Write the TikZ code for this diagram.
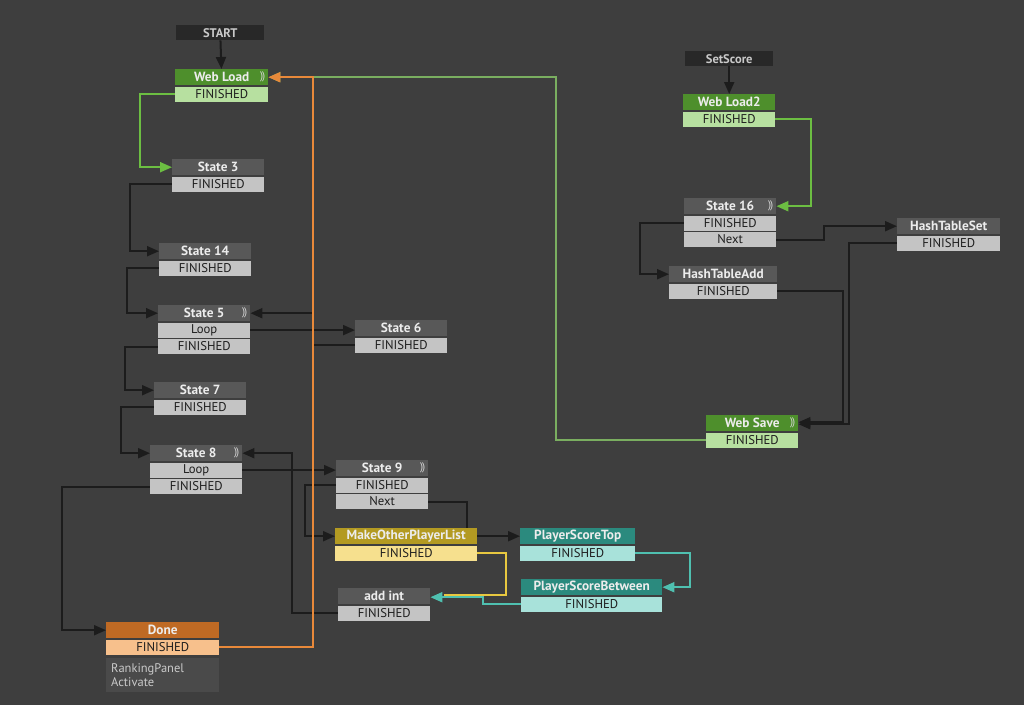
\documentclass[tikz,border=0pt]{standalone}
\usepackage{fontspec}
\setmainfont{PT Sans}
\usetikzlibrary{positioning,arrows.meta}
\pgfdeclarelayer{background}
\pgfsetlayers{background,main}

\definecolor{canvas}{RGB}{62,62,62}
\definecolor{entrybg}{RGB}{40,40,40}
\definecolor{ttlbg}{RGB}{88,88,88}
\definecolor{evbg}{RGB}{196,196,196}
\definecolor{ttltxt}{RGB}{236,236,236}
\definecolor{evtxt}{RGB}{30,30,30}
\definecolor{greenttl}{RGB}{78,143,44}
\definecolor{greenev}{RGB}{183,224,160}
\definecolor{orangettl}{RGB}{191,106,36}
\definecolor{orangeev}{RGB}{247,192,140}
\definecolor{yellowttl}{RGB}{179,154,34}
\definecolor{yellowev}{RGB}{246,224,142}
\definecolor{tealttl}{RGB}{43,138,126}
\definecolor{tealev}{RGB}{168,226,218}
\definecolor{descbg}{RGB}{74,74,74}
\definecolor{wireblack}{RGB}{28,28,28}
\definecolor{wiregreen}{RGB}{108,190,66}
\definecolor{wiregreenb}{RGB}{122,174,96}
\definecolor{wireorange}{RGB}{232,137,58}
\definecolor{wireyellow}{RGB}{232,200,64}
\definecolor{wireteal}{RGB}{79,192,176}

\tikzset{
  box/.style={anchor=north west, inner sep=0pt, minimum height=15pt,
    minimum width=#1, font=\fontsize{12.7}{13}\selectfont},
  entry/.style={box=#1, fill=entrybg, text=ttltxt!85!black,
    font=\fontsize{12.5}{13}\selectfont\bfseries},
  ttl/.style={box=#1, minimum height=16pt, fill=ttlbg, text=ttltxt,
    font=\fontsize{13.3}{14}\selectfont\bfseries},
  gttl/.style={ttl=#1, fill=greenttl},
  ottl/.style={ttl=#1, fill=orangettl},
  yttl/.style={ttl=#1, fill=yellowttl},
  tttl/.style={ttl=#1, fill=tealttl},
  ev/.style={box=#1, fill=evbg, text=evtxt},
  gev/.style={ev=#1, fill=greenev},
  oev/.style={ev=#1, fill=orangeev},
  yev/.style={ev=#1, fill=yellowev},
  tev/.style={ev=#1, fill=tealev},
  icon/.style={inner sep=0pt, text=ttltxt!80!gray,
    font=\fontsize{11}{11}\selectfont},
  wire/.style={draw=wireblack, line width=2pt,
    -{Triangle[length=12pt,width=10pt]}},
  gwire/.style={wire, draw=wiregreen},
  gwireb/.style={wire, draw=wiregreenb},
  owire/.style={wire, draw=wireorange},
  ywire/.style={wire, draw=wireyellow, -},
  twire/.style={wire, draw=wireteal},
}

\begin{document}
\begin{tikzpicture}[x=1pt,y=-1pt]
  % left machine
  \node[entry=88] (start) at (176,25) {START};
  \node[gttl=93] (wl) at (175,69) {Web Load};
  \node[gev=93, below=1pt of wl] (wl-f) {FINISHED};
  \node[icon, left=3pt of wl.east] (wl-i) {)\kern-1pt)};

  \node[ttl=92] (s3) at (172,159) {State 3};
  \node[ev=92, below=1pt of s3] (s3-f) {FINISHED};

  \node[ttl=92] (s14) at (159,243) {State 14};
  \node[ev=92, below=1pt of s14] (s14-f) {FINISHED};

  \node[ttl=92] (s5) at (158,305) {State 5};
  \node[ev=92, below=1pt of s5] (s5-l) {Loop};
  \node[ev=92, below=1pt of s5-l] (s5-f) {FINISHED};
  \node[icon, left=3pt of s5.east] (s5-i) {)\kern-1pt)};

  \node[ttl=92] (s6) at (355,320) {State 6};
  \node[ev=92, below=1pt of s6] (s6-f) {FINISHED};

  \node[ttl=92] (s7) at (154,382) {State 7};
  \node[ev=92, below=1pt of s7] (s7-f) {FINISHED};

  \node[ttl=92] (s8) at (150,445) {State 8};
  \node[ev=92, below=1pt of s8] (s8-l) {Loop};
  \node[ev=92, below=1pt of s8-l] (s8-f) {FINISHED};
  \node[icon, left=3pt of s8.east] (s8-i) {)\kern-1pt)};

  \node[ttl=92] (s9) at (336,460) {State 9};
  \node[ev=92, below=1pt of s9] (s9-f) {FINISHED};
  \node[ev=92, below=1pt of s9-f] (s9-n) {Next};
  \node[icon, left=3pt of s9.east] (s9-i) {)\kern-1pt)};

  \node[yttl=142] (mopl) at (335,528) {MakeOtherPlayerList};
  \node[yev=142, below=1pt of mopl] (mopl-f) {FINISHED};

  \node[tttl=115] (pst) at (520,528) {PlayerScoreTop};
  \node[tev=115, below=1pt of pst] (pst-f) {FINISHED};

  \node[tttl=141] (psb) at (521,579) {PlayerScoreBetween};
  \node[tev=141, below=1pt of psb] (psb-f) {FINISHED};

  \node[ttl=92] (addint) at (338,588) {add int};
  \node[ev=92, below=1pt of addint] (addint-f) {FINISHED};

  \node[ottl=113] (done) at (106,622) {Done};
  \node[oev=113, below=1pt of done] (done-f) {FINISHED};
  \node[box=113, minimum height=34pt, fill=descbg, text=ttltxt!85!black,
    align=left, text width=103pt, inner xsep=5pt, below=3pt of done-f,
    font=\fontsize{12.5}{14}\selectfont] (done-d) {RankingPanel\\Activate};

  % right machine
  \node[entry=88] (setscore) at (685,51) {SetScore};
  \node[gttl=92] (wl2) at (683,94) {Web Load2};
  \node[gev=92, below=1pt of wl2] (wl2-f) {FINISHED};

  \node[ttl=92] (s16) at (684,198) {State 16};
  \node[ev=92, below=1pt of s16] (s16-f) {FINISHED};
  \node[ev=92, below=1pt of s16-f] (s16-n) {Next};
  \node[icon, left=3pt of s16.east] (s16-i) {)\kern-1pt)};

  \node[ttl=103] (hts) at (897,218) {HashTableSet};
  \node[ev=103, below=1pt of hts] (hts-f) {FINISHED};

  \node[ttl=108] (hta) at (669,266) {HashTableAdd};
  \node[ev=108, below=1pt of hta] (hta-f) {FINISHED};

  \node[gttl=92] (ws) at (706,415) {Web Save};
  \node[gev=92, below=1pt of ws] (ws-f) {FINISHED};
  \node[icon, left=3pt of ws.east] (ws-i) {)\kern-1pt)};

  \begin{pgfonlayer}{background}
    \fill[canvas] (0,0) rectangle (1024,705);

    \draw[wire] (start) -- (wl);
    \draw[gwire] (wl-f.west) -- ++(-35,0) |- (s3.west);
    \draw[wire] (s3-f.west) -- ++(-42,0) |- (s14.west);
    \draw[wire] (s14-f.west) -- ++(-32,0) |- (s5.west);
    \draw[wire] (s5-l.east) -- (s5-l.east -| s6.west);
    \draw[wire] (s6-f.west) -- ++(-42,0) |- (s5.east);
    \draw[wire] (s5-f.west) -- ++(-33,0) |- (s7.west);
    \draw[wire] (s7-f.west) -- ++(-33,0) |- (s8.west);
    \draw[wire] (s8-l.east) -- (s8-l.east -| s9.west);
    \draw[wire] (s8-f.west) -- ++(-88,0) |- (done.west);
    \draw[wire] (s9-f.west) -- ++(-31,0) |- (mopl.west);
    \draw[wire] (s9-n.east) -- ++(39,0) |- (pst.west);
    \draw[ywire] (mopl-f.east) -- ++(29,0) |- ([xshift=14pt,yshift=1.5pt]addint.east);
    \draw[twire] (pst-f.east) -- ++(55,0) |- (psb.east);
    \draw[twire] (psb-f.west) -- ++(-38,0) |- ([yshift=-1pt]addint.east);
    \draw[wire] (addint-f.west) -- ++(-46,0) |- (s8.east);
    \draw[gwireb] (ws-f.west) -- ++(-150,0) |- (wl.east);
    \draw[owire] (done-f.east) -- ++(94,0) |- (wl.east);

    \draw[wire] (setscore) -- (wl2);
    \draw[gwire] (wl2-f.east) -- ++(36,0) |- (s16.east);
    \draw[wire] (s16-f.west) -- ++(-44,0) |- (hta.west);
    \draw[wire] (s16-n.east) -- ++(48,0) |- (hts.west);
    \draw[wire] (hts-f.west) -- ++(-48,0) |- ([yshift=-1pt]ws.east);
    \draw[wire] (hta-f.east) -- ++(66,0) |- ([yshift=1pt]ws.east);
  \end{pgfonlayer}
\end{tikzpicture}
\end{document}
